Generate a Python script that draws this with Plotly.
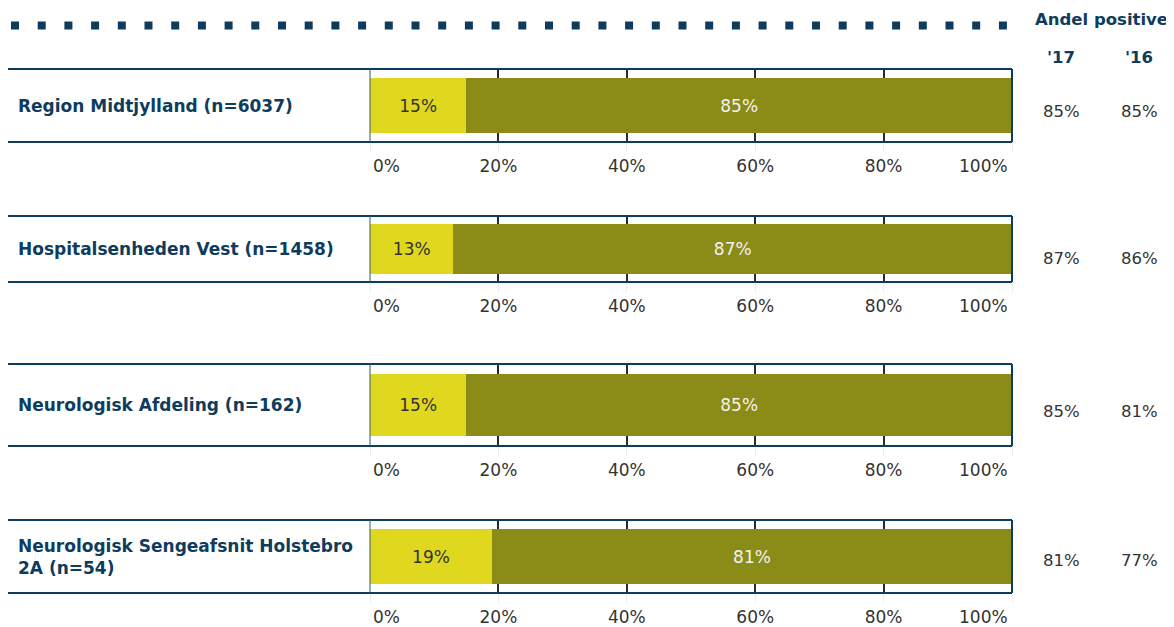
import plotly.graph_objects as go

# ---------------- data ----------------
categories = [
    "Region Midtjylland (n=6037)",
    "Hospitalsenheden Vest (n=1458)",
    "Neurologisk Afdeling (n=162)",
    "Neurologisk Sengeafsnit Holstebro<br>2A (n=54)",
]
negative = [15, 13, 15, 19]
positive = [85, 87, 85, 81]
share_17 = [85, 87, 85, 81]
share_16 = [85, 86, 81, 77]
tick_vals = [0, 20, 40, 60, 80, 100]
tick_text = ["0%", "20%", "40%", "60%", "80%", "100%"]
header_title = "Andel positive"
header_years = ["'17", "'16"]

# ---------------- layout helpers ----------------
W, H = 1174, 627
OFF = 8                      # page body margin of the html page
FW, FH = W - OFF, H - OFF    # figure size so it fits the window
NAVY = "#0e3c5e"
YELLOW = "#e0d81e"
OLIVE = "#8b8b17"
TXT = "#333333"
FONT = "DejaVu Sans"

panel_px = [(69, 142), (216, 282), (364, 446), (520, 593)]  # top, bottom in window px
value_shift = [-6, -10, -6, -4]
x_left_px, x0_px, x1_px = 4, 370, 1012

def py(p):
    return 1 - (p - OFF) / FH

def px(p):
    return (p - OFF) / FW

fig = go.Figure()
shapes = []
annotations = []

inner_ticktext = [""] + tick_text[1:-1] + [""]

for i, cat in enumerate(categories):
    n = i + 1
    xa = "x" if n == 1 else f"x{n}"
    ya = "y" if n == 1 else f"y{n}"
    top, bot = panel_px[i]
    fig.add_trace(go.Bar(
        x=[negative[i]], y=[0], orientation="h", xaxis=xa, yaxis=ya,
        marker=dict(color=YELLOW, line=dict(width=0)),
        text=[f"{negative[i]}%"], textposition="inside", insidetextanchor="middle",
        textfont=dict(color=TXT, size=17, family=FONT), showlegend=False,
        width=0.75, hoverinfo="skip",
    ))
    fig.add_trace(go.Bar(
        x=[positive[i]], y=[0], orientation="h", xaxis=xa, yaxis=ya,
        marker=dict(color=OLIVE, line=dict(width=0)),
        text=[f"{positive[i]}%"], textposition="inside", insidetextanchor="middle",
        textfont=dict(color="#f2f2f2", size=17, family=FONT), showlegend=False,
        width=0.75, hoverinfo="skip",
    ))
    xkey = "xaxis" if n == 1 else f"xaxis{n}"
    ykey = "yaxis" if n == 1 else f"yaxis{n}"
    fig.update_layout(**{
        xkey: dict(
            domain=[px(x0_px), px(x1_px)], anchor=ya, range=[0, 100],
            tickvals=tick_vals, ticktext=inner_ticktext, showgrid=True,
            gridcolor="#2b2b2b", gridwidth=1.5, zeroline=False,
            ticks="outside", ticklen=9, tickcolor="#ececec", tickwidth=1,
            ticklabelstandoff=0, automargin=False,
            tickfont=dict(size=17, color=TXT, family=FONT), showline=False,
            fixedrange=True,
        ),
        ykey: dict(
            domain=[py(bot), py(top)], anchor=xa, range=[-0.5, 0.5],
            showticklabels=False, showgrid=False, zeroline=False, fixedrange=True,
            automargin=False, ticks="",
        ),
    })
    yd = f"{ya} domain"
    xd = f"{xa} domain"
    # end tick labels kept inside the plot span
    annotations.append(dict(text=tick_text[0], xref=xa, yref=yd, x=tick_vals[0], y=0,
                            xanchor="left", yanchor="top", xshift=2, yshift=-13,
                            borderpad=0, showarrow=False,
                            font=dict(size=17, color=TXT, family=FONT)))
    annotations.append(dict(text=tick_text[-1], xref=xa, yref=yd, x=tick_vals[-1], y=0,
                            xanchor="right", yanchor="top", xshift=-3, yshift=-13,
                            borderpad=0, showarrow=False,
                            font=dict(size=17, color=TXT, family=FONT)))
    # top & bottom frame lines across label box and plot
    for yy in (0, 1):
        shapes.append(dict(type="line", xref="paper", yref=yd,
                           x0=px(x_left_px), x1=px(x1_px), y0=yy, y1=yy,
                           line=dict(color=NAVY, width=2), layer="above"))
    # separator between label box and bars
    shapes.append(dict(type="line", xref=xd, yref=yd, x0=0, x1=0, y0=0, y1=1,
                       line=dict(color="#2f5a6a", width=1), layer="above"))
    # right frame
    shapes.append(dict(type="line", xref=xd, yref=yd, x0=1, x1=1, y0=0, y1=1,
                       line=dict(color=NAVY, width=2), layer="above"))
    # category label
    annotations.append(dict(
        text=f"<b>{cat}</b>", xref="paper", yref=yd, x=px(16), y=0.5,
        xanchor="left", yanchor="middle", showarrow=False, align="left",
        font=dict(size=17, color=NAVY, family=FONT),
    ))
    # right share values
    for xx, val in ((1061, share_17[i]), (1139, share_16[i])):
        annotations.append(dict(
            text=f"{val}%", xref="paper", yref=yd, x=px(xx), y=0.5, yshift=value_shift[i],
            xanchor="center", yanchor="middle", showarrow=False,
            font=dict(size=16.5, color=TXT, family=FONT),
        ))

# header
annotations.append(dict(text=f"<b>{header_title}</b>", xref="paper", yref="paper",
                        x=px(1170), y=py(20), xanchor="right", yanchor="middle",
                        showarrow=False, font=dict(size=16.5, color=NAVY, family=FONT)))
for xx, lab in ((1061, header_years[0]), (1139, header_years[1])):
    annotations.append(dict(text=f"<b>{lab}</b>", xref="paper", yref="paper",
                            x=px(xx), y=py(57), xanchor="center", yanchor="middle",
                            showarrow=False, font=dict(size=16.5, color=NAVY, family=FONT)))

# dotted header rule
shapes.append(dict(type="line", xref="paper", yref="paper",
                   x0=px(11), x1=px(1012), y0=py(25.5), y1=py(25.5),
                   line=dict(color=NAVY, width=8, dash="8px,18.7px")))

fig.update_layout(
    template="none",
    width=FW, height=FH, barmode="stack", bargap=0.25,
    margin=dict(l=0, r=0, t=0, b=0, pad=0, autoexpand=False),
    paper_bgcolor="white", plot_bgcolor="white",
    shapes=shapes, annotations=annotations,
    font=dict(family=FONT, color=TXT),
    showlegend=False,
)

fig.write_html("out.html")
